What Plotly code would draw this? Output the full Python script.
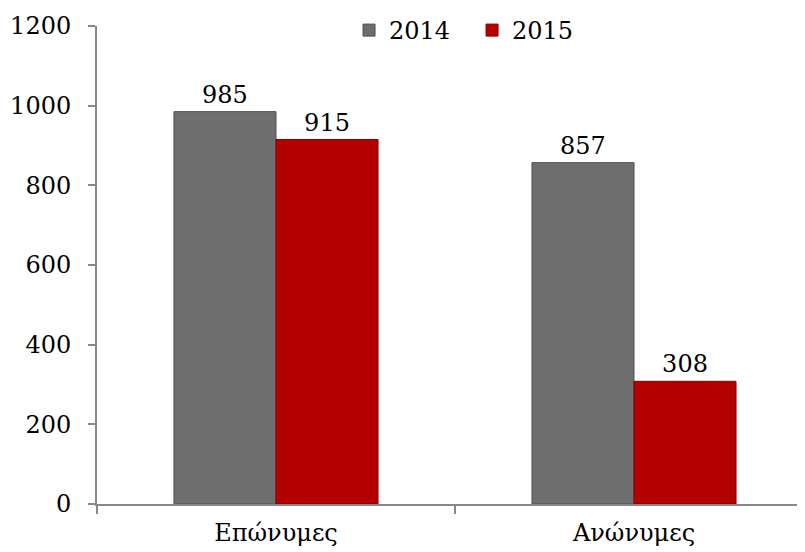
import plotly.graph_objects as go

categories = ["Επώνυμες", "Ανώνυμες"]
series_names = ["2014", "2015"]
values_2014 = [985, 857]
values_2015 = [915, 308]
y_ticks = [0, 200, 400, 600, 800, 1000, 1200]

FONT = "DejaVu Serif"
fig = go.Figure()
fig.add_trace(go.Bar(
    x=categories, y=values_2014, name=series_names[0],
    marker=dict(color="#6e6e6e", line=dict(color="#505050", width=1)),
    texttemplate="%{y}", textposition="outside", cliponaxis=False,
    textfont=dict(family=FONT, size=24, color="#000000"),
))
fig.add_trace(go.Bar(
    x=categories, y=values_2015, name=series_names[1],
    marker=dict(color="#b40000", line=dict(color="#850000", width=1)),
    texttemplate="%{y}", textposition="outside", cliponaxis=False,
    textfont=dict(family=FONT, size=24, color="#000000"),
))

fig.update_layout(
    width=805, height=552,
    margin=dict(l=89, r=0, t=18, b=56),
    paper_bgcolor="white", plot_bgcolor="white",
    barmode="group", bargap=0.43, bargroupgap=0,
    font=dict(family=FONT, size=24, color="#000000"),
    showlegend=True,
    legend=dict(orientation="h", x=0.352, y=1.038, xanchor="left", yanchor="top",
                font=dict(family=FONT, size=24), itemwidth=30, entrywidth=78,
                bgcolor="rgba(0,0,0,0)"),
)
fig.update_xaxes(
    range=[-0.5, 1.5], showline=True, linecolor="#888888", linewidth=2,
    ticks="outside", tickson="boundaries", ticklen=8, tickcolor="#888888", tickwidth=2,
    showgrid=False, tickfont=dict(family=FONT, size=24), ticklabelstandoff=6,
)
fig.update_yaxes(
    range=[0, 1200], tickvals=y_ticks, showline=True, linecolor="#888888", linewidth=2,
    ticks="outside", ticklen=7, tickcolor="#888888", tickwidth=2,
    showgrid=False, zeroline=False, tickfont=dict(family=FONT, size=24),
    ticklabelstandoff=12,
)

fig.write_html("out.html")
